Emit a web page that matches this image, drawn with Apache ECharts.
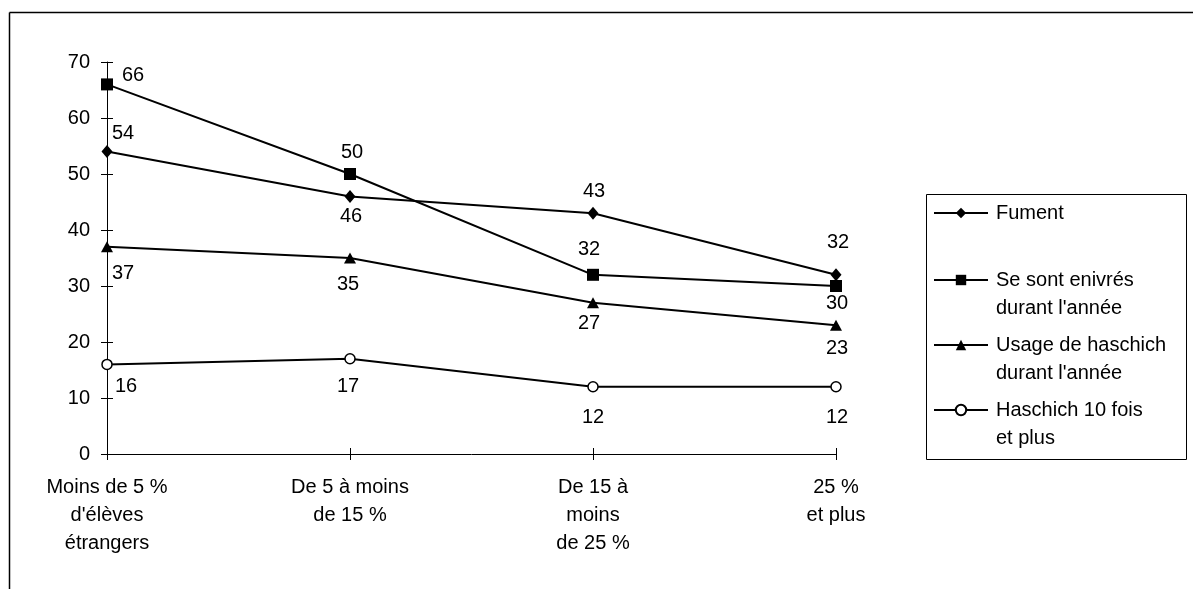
<!DOCTYPE html>
<html>
<head>
<meta charset="utf-8">
<script src="https://cdn.jsdelivr.net/npm/echarts@6/dist/echarts.min.js"></script>
<style>
html,body{margin:0;padding:0;background:#fff;}
#chart{width:1193px;height:590px;}
</style>
</head>
<body>
<div id="chart"></div>
<script>
// ---- data ----
const categories = ["Moins de 5 %\nd'élèves\nétrangers", "De 5 à moins\nde 15 %", "De 15 à\nmoins\nde 25 %", "25 %\net plus"];
const seriesNames = ["Fument", "Se sont enivrés\ndurant l'année", "Usage de haschich\ndurant l'année", "Haschich 10 fois\net plus"];
const fument = [54, 46, 43, 32];
const enivres = [66, 50, 32, 30];
const haschichAnnee = [37, 35, 27, 23];
const haschich10 = [16, 17, 12, 12];
const yTicks = [0, 10, 20, 30, 40, 50, 60, 70];

// ---- styling (label offsets, marker styles) ----
const labelOffsets = [
  [[16, -18], [1, 20], [1, -22], [2, -32]],
  [[26, -9], [2, -22], [-4, -25], [1, 17]],
  [[16, 27], [-2, 26], [-4, 21], [1, 23]],
  [[19, 22], [-2, 28], [0, 31], [1, 31]]
];
const symbols = ['diamond', 'rect', 'triangle', 'circle'];
const symbolSizes = [[11, 13], [12, 12], [12, 11], [10, 10]];
const fills = ['#000', '#000', '#000', '#fff'];
const FONT = 'Liberation Sans, Arial, sans-serif';

const valueSets = [fument, enivres, haschichAnnee, haschich10];

const series = valueSets.map((vals, si) => ({
  name: seriesNames[si],
  type: 'line',
  xAxisIndex: 0,
  yAxisIndex: 0,
  symbol: symbols[si],
  symbolSize: symbolSizes[si],
  showAllSymbol: true,
  lineStyle: { color: '#000', width: 2 },
  itemStyle: { color: fills[si], borderColor: '#000', borderWidth: si === 3 ? 1.5 : 0 },
  emphasis: { disabled: true },
  animation: false,
  z: 10 - si,
  data: vals.map((v, i) => ({
    value: v,
    label: {
      show: true,
      position: 'inside',
      offset: labelOffsets[si][i],
      color: '#000',
      fontFamily: FONT,
      fontSize: 20
    }
  }))
}));

// legend: one component per entry, placed individually
const legendTops = [199, 238, 303, 368];
const legends = seriesNames.map((n, i) => {
  const twoLines = n.indexOf('\n') >= 0;
  return {
    data: [n],
    orient: 'vertical',
    left: 933,
    top: legendTops[i],
    itemWidth: 54,
    itemHeight: 13,
    padding: 0,
    selectedMode: false,
    formatter: twoLines ? (name => ' \n' + name) : (name => name),
    textStyle: {
      fontFamily: FONT,
      fontSize: 20,
      color: '#000',
      lineHeight: 28,
      padding: [0, 0, 0, 3]
    }
  };
});

const chart = echarts.init(document.getElementById('chart'), null, { renderer: 'canvas' });
chart.setOption({
  backgroundColor: '#fff',
  animation: false,
  textStyle: { fontFamily: FONT },
  grid: { left: 107, top: 62, width: 729, height: 392, containLabel: false },
  xAxis: [
    {
      type: 'category',
      data: categories,
      boundaryGap: false,
      axisLine: { lineStyle: { color: '#000', width: 1 } },
      axisTick: { show: true, length: 6, inside: false, lineStyle: { color: '#000' } },
      axisLabel: { color: '#000', fontFamily: FONT, fontSize: 20, lineHeight: 28, margin: 19, interval: 0 },
      splitLine: { show: false }
    },
    {
      type: 'category',
      data: categories,
      position: 'bottom',
      boundaryGap: false,
      axisLine: { show: false },
      axisTick: { show: true, length: 6, inside: true, lineStyle: { color: '#000' } },
      axisLabel: { show: false },
      splitLine: { show: false }
    }
  ],
  yAxis: [
    {
      type: 'value',
      min: yTicks[0],
      max: yTicks[yTicks.length - 1],
      interval: yTicks[1] - yTicks[0],
      axisLine: { show: true, lineStyle: { color: '#000', width: 1 } },
      axisTick: { show: true, length: 6, inside: false, lineStyle: { color: '#000' } },
      axisLabel: { color: '#000', fontFamily: FONT, fontSize: 20, margin: 17 },
      splitLine: { show: false }
    },
    {
      type: 'value',
      position: 'left',
      min: yTicks[0],
      max: yTicks[yTicks.length - 1],
      interval: yTicks[1] - yTicks[0],
      axisLine: { show: false },
      axisTick: { show: true, length: 6, inside: true, lineStyle: { color: '#000' } },
      axisLabel: { show: false },
      splitLine: { show: false }
    }
  ],
  legend: legends,
  graphic: [
    { type: 'line', shape: { x1: 9.5, y1: 12.5, x2: 1193, y2: 12.5 }, style: { stroke: '#000', lineWidth: 1.5 }, silent: true },
    { type: 'line', shape: { x1: 9.5, y1: 12.5, x2: 9.5, y2: 589 }, style: { stroke: '#000', lineWidth: 1.5 }, silent: true },
    { type: 'rect', shape: { x: 926.5, y: 194.5, width: 260, height: 265 }, style: { fill: 'none', stroke: '#000', lineWidth: 1 }, silent: true, z: -1 }
  ],
  series: series
});
</script>
</body>
</html>
